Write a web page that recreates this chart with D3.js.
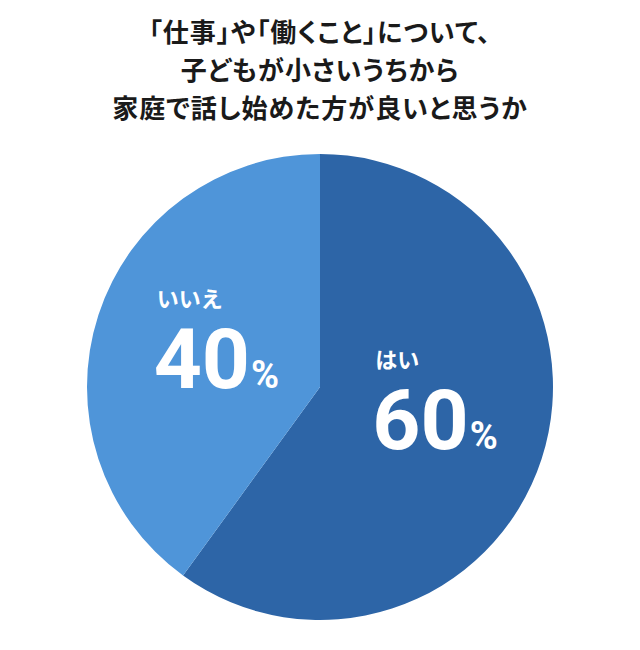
<!DOCTYPE html>
<html lang="ja">
<head>
<meta charset="UTF-8">
<script src="https://d3js.org/d3.v7.min.js"></script>
<style>
body { margin: 0; background: #fff; }
svg { display: block; }
.title { font-family: "Noto Sans CJK JP", sans-serif; font-weight: 700; font-size: 26px; fill: #1a1a1a; font-feature-settings: "palt"; letter-spacing: 1px; }
.lbl { font-family: "Noto Sans CJK JP", sans-serif; font-weight: 700; font-size: 22px; fill: #fff; }
.pct { font-family: Roboto, sans-serif; font-weight: 700; fill: #fff; }
</style>
</head>
<body>
<div id="chart"></div>
<script>
// data
var titleLines = ["「仕事」や「働くこと」について、", "子どもが小さいうちから", "家庭で話し始めた方が良いと思うか"];
var categories = ["はい", "いいえ"];
var values = [60, 40];
var colors = ["#2d65a7", "#4f95d9"];

var width = 640, height = 650;
var cx = 320, cy = 387, radius = 233;

var svg = d3.select("#chart").append("svg")
  .attr("width", width)
  .attr("height", height);

// title
svg.selectAll("text.title")
  .data(titleLines)
  .enter().append("text")
    .attr("class", "title")
    .attr("x", cx)
    .attr("y", function(d, i) { return 42 + i * 38; })
    .attr("text-anchor", "middle")
    .text(function(d) { return d; });

var pie = d3.pie().sort(null).value(function(d) { return d; });
var arcs = pie(values);

var arc = d3.arc().innerRadius(0).outerRadius(radius);
var labelArc = d3.arc().innerRadius(115).outerRadius(115);

var g = svg.append("g")
  .attr("transform", "translate(" + cx + "," + cy + ")");

g.selectAll("path.slice")
  .data(arcs)
  .enter().append("path")
    .attr("class", "slice")
    .attr("d", arc)
    .attr("fill", function(d, i) { return colors[i]; });

// labels sit near the centroid, nudged to the reference layout
var nudge = [[-54, -74], [-54, -63]];

var lab = g.selectAll("g.label")
  .data(arcs)
  .enter().append("g")
    .attr("class", "label")
    .attr("transform", function(d, i) {
      var c = labelArc.centroid(d);
      return "translate(" + (c[0] + nudge[i][0]) + "," + (c[1] + nudge[i][1]) + ")";
    });

lab.append("text")
  .attr("class", "lbl")
  .attr("x", 0)
  .attr("y", 19)
  .text(function(d, i) { return categories[i]; });

var num = lab.append("text")
  .attr("class", "pct")
  .attr("x", -3)
  .attr("y", 100);
num.append("tspan")
  .attr("font-size", 84)
  .text(function(d) { return d.data; });
num.append("tspan")
  .attr("font-size", 38)
  .attr("dx", 1)
  .text("%");
</script>
</body>
</html>
